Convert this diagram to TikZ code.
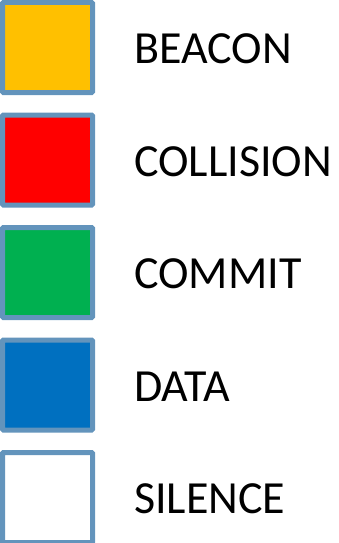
\documentclass[tikz,border=0pt]{standalone}
\usepackage{fontspec}
\setmainfont{Carlito}
\usetikzlibrary{positioning}
\definecolor{keyline}{HTML}{6394BC}
\definecolor{beaconfill}{HTML}{FFC000}
\definecolor{collfill}{HTML}{FF0000}
\definecolor{commitfill}{HTML}{00B050}
\definecolor{datafill}{HTML}{0070C0}
\definecolor{silencefill}{HTML}{FFFFFF}

\begin{document}
\begin{tikzpicture}[
  x=1pt, y=1pt,
  font=\fontsize{46}{50}\selectfont,
  key/.style = {draw=keyline, line width=5pt, rounded corners=1pt,
                minimum size=90pt, inner sep=0pt},
  lbl/.style = {anchor=west, inner sep=0pt, text=black},
]
\useasboundingbox (0,0) rectangle (339,-543);

% --- the swatches, one under the other -----------------------------------------------------------
\node[key, fill=beaconfill]  (beacon)  at (47.5,-47.5)  {};
\node[key, fill=collfill]    (coll)    at (47.5,-160)   {};
\node[key, fill=commitfill]  (commit)  at (47.5,-272.5) {};
\node[key, fill=datafill]    (data)    at (47.5,-385)   {};
\node[key, fill=silencefill] (silence) at (47.5,-497.5) {};

% --- and what each one stands for ----------------------------------------------------------------
\node[lbl, right=39pt of beacon.east,  yshift=-1.5pt] (beaconlbl)  {BEACON};
\node[lbl, right=39pt of coll.east,    yshift=-1.5pt] (colllbl)    {COLLISION};
\node[lbl, right=39pt of commit.east,  yshift=-1.5pt] (commitlbl)  {COMMIT};
\node[lbl, right=39pt of data.east,    yshift=-1.5pt] (datalbl)    {DATA};
\node[lbl, right=39pt of silence.east, yshift=-1.5pt] (silencelbl) {SILENCE};

\end{tikzpicture}
\end{document}
